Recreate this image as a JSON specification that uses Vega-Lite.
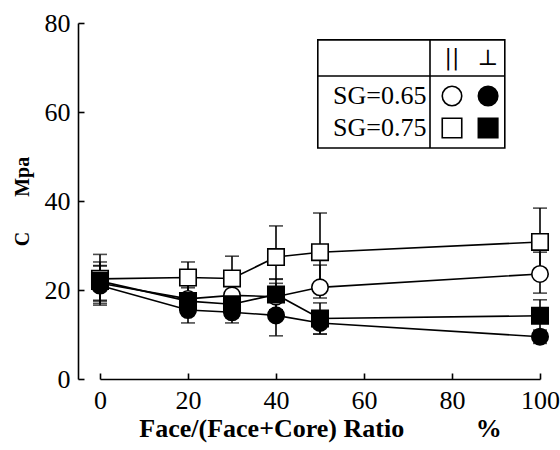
{
  "$schema": "https://vega.github.io/schema/vega-lite/v6.json",
  "width": 440,
  "height": 356,
  "autosize": "none",
  "padding": {"left": 100, "top": 23, "right": 20, "bottom": 71},
  "background": "white",
  "config": {
    "view": {"stroke": null},
    "font": "Liberation Serif",
    "axis": {"grid": false, "domainColor": "black", "tickColor": "black", "domainWidth": 1.6, "tickWidth": 1.6, "labelColor": "black", "titleColor": "black", "labelFont": "Liberation Serif, Times New Roman, serif", "titleFont": "Liberation Serif, Times New Roman, serif", "labelFontWeight": "normal"}
  },
  "datasets": {
    "pts": [
      {"x": 0, "y": 22.5, "lo": 17.0, "hi": 28.0, "s": "SG=0.75 par"},
      {"x": 20, "y": 22.8, "lo": 19.3, "hi": 26.3, "s": "SG=0.75 par"},
      {"x": 30, "y": 22.6, "lo": 17.6, "hi": 27.6, "s": "SG=0.75 par"},
      {"x": 40, "y": 27.4, "lo": 22.4, "hi": 34.4, "s": "SG=0.75 par"},
      {"x": 50, "y": 28.5, "lo": 19.7, "hi": 37.3, "s": "SG=0.75 par"},
      {"x": 100, "y": 30.8, "lo": 23.2, "hi": 38.4, "s": "SG=0.75 par"},
      {"x": 0, "y": 21.5, "lo": 17.5, "hi": 25.5, "s": "SG=0.65 par"},
      {"x": 20, "y": 18.0, "lo": 15.0, "hi": 21.0, "s": "SG=0.65 par"},
      {"x": 30, "y": 18.8, "lo": 15.8, "hi": 21.8, "s": "SG=0.65 par"},
      {"x": 40, "y": 18.5, "lo": 15.5, "hi": 21.5, "s": "SG=0.65 par"},
      {"x": 50, "y": 20.6, "lo": 18.2, "hi": 25.6, "s": "SG=0.65 par"},
      {"x": 100, "y": 23.6, "lo": 19.3, "hi": 28.5, "s": "SG=0.65 par"},
      {"x": 0, "y": 22.0, "lo": 17.7, "hi": 26.3, "s": "SG=0.75 perp"},
      {"x": 20, "y": 17.5, "lo": 14.5, "hi": 20.5, "s": "SG=0.75 perp"},
      {"x": 30, "y": 16.8, "lo": 13.8, "hi": 19.8, "s": "SG=0.75 perp"},
      {"x": 40, "y": 19.0, "lo": 15.5, "hi": 22.5, "s": "SG=0.75 perp"},
      {"x": 50, "y": 13.6, "lo": 10.1, "hi": 17.1, "s": "SG=0.75 perp"},
      {"x": 100, "y": 14.2, "lo": 10.6, "hi": 17.8, "s": "SG=0.75 perp"},
      {"x": 0, "y": 21.0, "lo": 16.6, "hi": 25.4, "s": "SG=0.65 perp"},
      {"x": 20, "y": 15.5, "lo": 12.6, "hi": 18.4, "s": "SG=0.65 perp"},
      {"x": 30, "y": 15.0, "lo": 12.6, "hi": 17.4, "s": "SG=0.65 perp"},
      {"x": 40, "y": 14.3, "lo": 9.7, "hi": 18.9, "s": "SG=0.65 perp"},
      {"x": 50, "y": 12.6, "lo": 10.1, "hi": 15.1, "s": "SG=0.65 perp"},
      {"x": 100, "y": 9.5, "lo": 8.0, "hi": 11.0, "s": "SG=0.65 perp"}
    ],
    "legbox": [{"x": 49.5, "x2": 92.0, "y": 51.9, "y2": 76.2}],
    "legrules": [
      {"x": 75.0, "x2": 75.0, "y": 51.9, "y2": 76.2},
      {"x": 49.5, "x2": 92.0, "y": 68.1, "y2": 68.1}
    ],
    "legtext": [
      {"x": 74.2, "y": 63.6, "t": "SG=0.65"},
      {"x": 74.2, "y": 56.4, "t": "SG=0.75"}
    ],
    "leghead": [
      {"x": 80.0, "y": 72.2, "t": "||"},
      {"x": 88.2, "y": 72.2, "t": "⊥"}
    ],
    "legsym": [
      {"x": 80.0, "y": 63.6, "s": "SG=0.65 par"},
      {"x": 88.2, "y": 63.6, "s": "SG=0.65 perp"},
      {"x": 80.0, "y": 56.4, "s": "SG=0.75 par"},
      {"x": 88.2, "y": 56.4, "s": "SG=0.75 perp"}
    ]
  },
  "encoding": {
    "x": {"field": "x", "type": "quantitative", "scale": {"domain": [0, 100], "nice": false},
      "axis": {"values": [0, 20, 40, 60, 80, 100], "tickSize": -6, "labelFontSize": 26, "labelPadding": 14, "title": "Face/(Face+Core) Ratio\u00a0\u00a0\u00a0\u00a0\u00a0\u00a0\u00a0\u00a0\u00a0\u00a0\u00a0%", "titleFontSize": 26, "titleFontWeight": "bold", "titlePadding": 2, "labelFlush": false}},
    "y": {"field": "y", "type": "quantitative", "scale": {"domain": [0, 80], "nice": false},
      "axis": {"values": [0, 20, 40, 60, 80], "tickSize": -6, "offset": 22, "labelFontSize": 26, "labelPadding": 14, "title": "C\u00a0\u00a0\u00a0\u00a0\u00a0\u00a0\u00a0Mpa", "titleFontSize": 20, "titleFontWeight": "bold", "titlePadding": 12, "labelFlush": false}}
  },
  "layer": [
    {"data": {"name": "pts"}, "mark": {"type": "line", "color": "black", "strokeWidth": 1.6},
      "encoding": {"detail": {"field": "s"}}},
    {"data": {"name": "pts"}, "mark": {"type": "rule", "color": "black", "strokeWidth": 1.6},
      "encoding": {"y": {"field": "lo", "type": "quantitative"}, "y2": {"field": "hi"}}},
    {"data": {"name": "pts"}, "mark": {"type": "tick", "color": "black", "orient": "horizontal", "size": 14, "thickness": 1.6},
      "encoding": {"y": {"field": "lo", "type": "quantitative"}}},
    {"data": {"name": "pts"}, "mark": {"type": "tick", "color": "black", "orient": "horizontal", "size": 14, "thickness": 1.6},
      "encoding": {"y": {"field": "hi", "type": "quantitative"}}},
    {"data": {"name": "pts"}, "mark": {"type": "point", "filled": false, "stroke": "black", "strokeWidth": 1.6, "opacity": 1, "size": 270},
      "encoding": {
        "shape": {"field": "s", "type": "nominal", "legend": null, "scale": {"domain": ["SG=0.65 par", "SG=0.65 perp", "SG=0.75 par", "SG=0.75 perp"], "range": ["circle", "circle", "square", "square"]}},
        "fill": {"field": "s", "type": "nominal", "legend": null, "scale": {"domain": ["SG=0.65 par", "SG=0.65 perp", "SG=0.75 par", "SG=0.75 perp"], "range": ["white", "black", "white", "black"]}}
      }},
    {"data": {"name": "legbox"}, "mark": {"type": "rect", "fill": "white", "stroke": "black", "strokeWidth": 1.6},
      "encoding": {"x2": {"field": "x2"}, "y2": {"field": "y2"}}},
    {"data": {"name": "legrules"}, "mark": {"type": "rule", "color": "black", "strokeWidth": 1.6},
      "encoding": {"x2": {"field": "x2"}, "y2": {"field": "y2"}}},
    {"data": {"name": "legtext"}, "mark": {"type": "text", "align": "right", "baseline": "middle", "fontSize": 26, "font": "Liberation Serif, Times New Roman, serif", "color": "black"},
      "encoding": {"text": {"field": "t"}}},
    {"data": {"name": "leghead"}, "mark": {"type": "text", "align": "center", "baseline": "middle", "fontSize": 22, "font": "DejaVu Serif", "color": "black"},
      "encoding": {"text": {"field": "t"}}},
    {"data": {"name": "legsym"}, "mark": {"type": "point", "filled": false, "stroke": "black", "strokeWidth": 1.6, "opacity": 1, "size": 380},
      "encoding": {
        "shape": {"field": "s", "type": "nominal", "legend": null},
        "fill": {"field": "s", "type": "nominal", "legend": null}
      }}
  ]
}
